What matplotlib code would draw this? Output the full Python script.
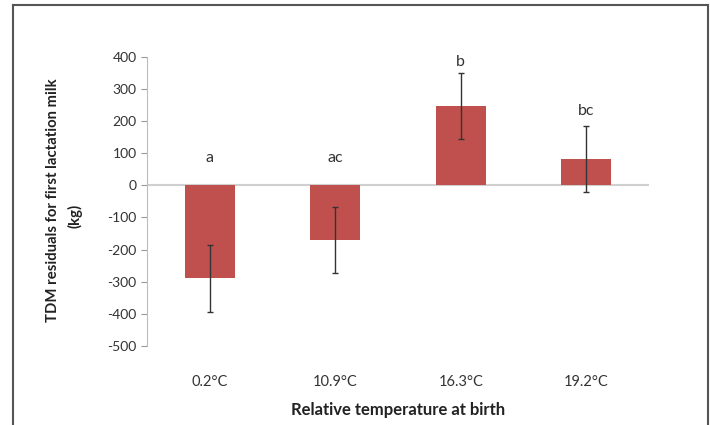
import matplotlib
matplotlib.use("Agg")
import matplotlib.pyplot as plt
from matplotlib.lines import Line2D

categories = ["0.2°C", "10.9°C", "16.3°C", "19.2°C"]
residuals = [-290, -170, 247, 81]
errors = [104, 103, 103, 103]
letters = ["a", "ac", "b", "bc"]
letter_y = [85, 85, 384, 232]

plt.rcParams["font.family"] = ["Lato", "DejaVu Sans"]
plt.rcParams["axes.unicode_minus"] = False

fw, fh = 710, 425
fig = plt.figure(figsize=(fw / 100, fh / 100), dpi=100)
ax = fig.add_axes([0.207, 0.1866, 0.707, 0.679])

x = range(len(categories))
ax.bar(x, residuals, width=0.4, color="#C0504D", zorder=2)
ax.errorbar(x, residuals, yerr=errors, fmt="none", ecolor="#333333",
            elinewidth=1, capsize=2.5, capthick=1, zorder=3)
ax.axhline(0, color="#D0D0D0", lw=1.5, zorder=1)

for xi, lab, ly in zip(x, letters, letter_y):
    ax.text(xi, ly, lab, ha="center", va="center", fontsize=11.5, color="#333333")

ax.set_xlim(-0.5, len(categories) - 0.5)
ax.set_ylim(-500, 400)
ax.set_yticks(range(-500, 401, 100))
ax.tick_params(axis="y", labelsize=10, colors="#999999", labelcolor="#333333",
               length=4, width=0.8, direction="out")
ax.set_xticks(list(x))
ax.set_xticklabels(categories)
ax.tick_params(axis="x", length=0, labelsize=10.5, labelcolor="#333333", pad=21)

for side in ["top", "right", "bottom"]:
    ax.spines[side].set_visible(False)
ax.spines["left"].set_color("#BBBBBB")

# axis titles
fig.text(398 / fw, 1 - 410 / fh, "Relative temperature at birth", fontsize=12,
         fontweight="bold", color="#222222", ha="center", va="center")
fig.text(53 / fw, 1 - 200 / fh, "TDM residuals for first lactation milk",
         fontsize=10.7, fontweight="bold", color="#222222", rotation=90,
         ha="center", va="center")
fig.text(75 / fw, 1 - 216 / fh, "(kg)", fontsize=10.7, fontweight="bold",
         color="#222222", rotation=90, ha="center", va="center")

# outer frame (no bottom edge)
frame = dict(color="#555555", lw=1.5, transform=fig.transFigure)
fig.add_artist(Line2D([13 / fw, 13 / fw], [0, 1 - 5 / fh], **frame))
fig.add_artist(Line2D([13 / fw, 708 / fw], [1 - 5 / fh, 1 - 5 / fh], **frame))
fig.add_artist(Line2D([708 / fw, 708 / fw], [0, 1 - 5 / fh], **frame))

fig.savefig("out.png", dpi=100)
plt.close(fig)
